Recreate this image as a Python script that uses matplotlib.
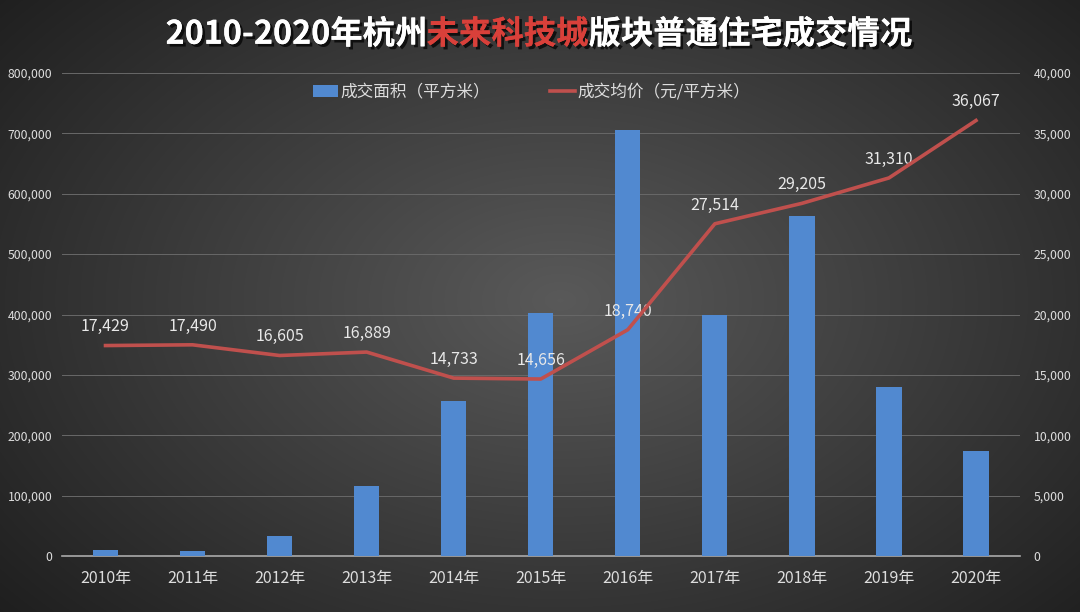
import numpy as np
import matplotlib.pyplot as plt
import matplotlib.patheffects as pe
from matplotlib.ticker import FuncFormatter

plt.rcParams['font.family'] = ['Noto Sans CJK SC', 'DejaVu Sans']

# data
years = ['2010年', '2011年', '2012年', '2013年', '2014年', '2015年',
         '2016年', '2017年', '2018年', '2019年', '2020年']
area = [10000, 7800, 32600, 115400, 256500, 402000,
        705000, 399000, 563000, 280000, 174000]
price = [17429, 17490, 16605, 16889, 14733, 14656,
         18740, 27514, 29205, 31310, 36067]

fig = plt.figure(figsize=(10.8, 6.12), dpi=100)

# radial gradient background
bg = fig.add_axes([0, 0, 1, 1], zorder=-10)
yy, xx = np.mgrid[0:612, 0:1080]
r = np.sqrt(((xx - 560) / 640.0) ** 2 + ((yy - 300) / 420.0) ** 2)
shade = np.clip(0.35 - 0.2 * r, 0.11, 0.35)
bg.imshow(np.dstack([shade, shade, shade]), aspect='auto', extent=[0, 1, 0, 1])
bg.axis('off')

ax = fig.add_axes([0.0574, 0.0915, 0.8866, 0.7892])
ax.patch.set_alpha(0)
x = np.arange(len(years))
bars = ax.bar(x, area, width=0.29, color='#5189D0', zorder=3)
ax.set_ylim(0, 800000)
ax.set_xlim(-0.5, len(years) - 0.5)
ax.set_yticks(np.arange(0, 800001, 100000))
ax.yaxis.set_major_formatter(FuncFormatter(lambda v, p: f'{int(v):,}'))
ax.grid(axis='y', color='#686868', linewidth=0.7, zorder=0)
ax.set_xticks(x)
ax.set_xticklabels(years, fontsize=11.5, color='#dddddd')
ax.tick_params(axis='y', labelsize=8.8, colors='#dddddd', length=0, pad=7)
ax.tick_params(axis='x', length=0, pad=10)
for s in ['top', 'right', 'left']:
    ax.spines[s].set_visible(False)
ax.spines['bottom'].set_color('#aaaaaa')
ax.spines['bottom'].set_linewidth(1.2)

ax2 = ax.twinx()
ax2.set_ylim(0, 40000)
ax2.set_yticks(np.arange(0, 40001, 5000))
ax2.yaxis.set_major_formatter(FuncFormatter(lambda v, p: f'{int(v):,}'))
ax2.tick_params(axis='y', labelsize=8.8, colors='#dddddd', length=0, pad=10)
for s in ax2.spines.values():
    s.set_visible(False)
line, = ax2.plot(x, price, color='#C0504D', linewidth=2.6, zorder=4)
for xi, p in zip(x, price):
    ax2.annotate(f'{p:,}', (xi, p), xytext=(0, 13.5), textcoords='offset points',
                 ha='center', va='center', fontsize=11.5, color='#e8e8e8')

fig.legend([bars, line], ['成交面积（平方米）', '成交均价（元/平方米）'],
           loc='center', bbox_to_anchor=(0.492, 0.849), ncol=2, frameon=False,
           fontsize=12, labelcolor='#dddddd', handlelength=1.5, handleheight=0.8,
           columnspacing=3.6, handletextpad=0.15)

# title with red middle part
parts = [('2010-2020年杭州', 'white'), ('未来科技城', '#D9403A'), ('版块普通住宅成交情况', 'white')]
shadow = [pe.withSimplePatchShadow(offset=(2, -2), shadow_rgbFace='black', alpha=0.7), pe.Normal()]
texts = []
for s, c in parts:
    t = fig.text(0, 0.944, s, fontsize=23.3, fontweight='bold', color=c,
                 ha='left', va='center', path_effects=shadow)
    texts.append(t)
fig.canvas.draw()
rend = fig.canvas.get_renderer()
widths = [t.get_window_extent(rend).width / fig.bbox.width for t in texts]
start = 0.499 - sum(widths) / 2
for t, w in zip(texts, widths):
    t.set_x(start)
    start += w

fig.savefig('out.png', dpi=100)
